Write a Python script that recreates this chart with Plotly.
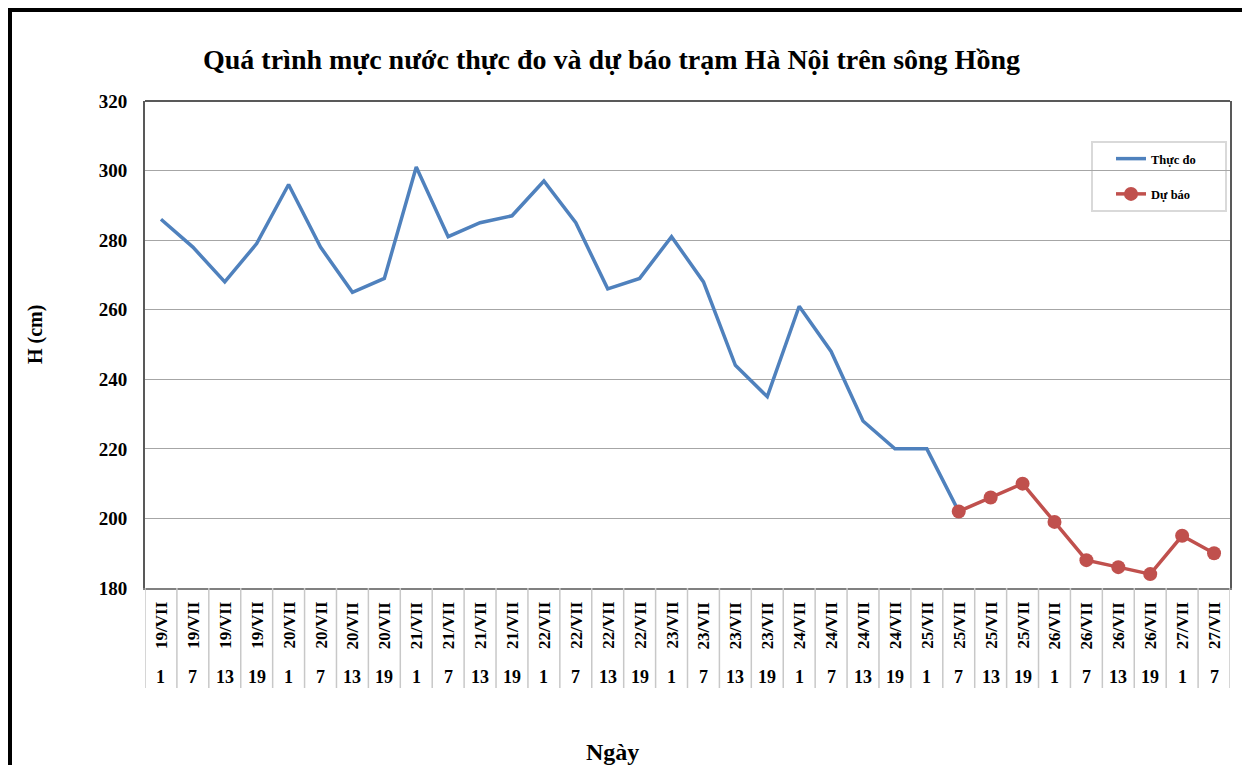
import plotly.graph_objects as go

date_labels = ["19/VII"] * 4 + ["20/VII"] * 4 + ["21/VII"] * 4 + ["22/VII"] * 4 + \
              ["23/VII"] * 4 + ["24/VII"] * 4 + ["25/VII"] * 4 + ["26/VII"] * 4 + ["27/VII"] * 2
hour_labels = ["1", "7", "13", "19"] * 8 + ["1", "7"]
categories = [f"{d} {h}" for d, h in zip(date_labels, hour_labels)]

observed = [286, 278, 268, 279, 296, 278, 265, 269, 301, 281, 285, 287, 297,
            285, 266, 269, 281, 268, 244, 235, 261, 248, 228, 220, 220, 202]
forecast = [202, 206, 210, 199, 188, 186, 184, 195, 190]

obs_x = categories[:len(observed)]
fc_x = categories[len(observed) - 1:]

FONT = "Liberation Serif"
BLUE = "#4F81BD"
RED = "#C0504D"

fig = go.Figure()
fig.add_trace(go.Scatter(x=obs_x, y=observed, mode="lines", name="Thực đo",
                         line=dict(color=BLUE, width=3.5), legendgroup="a"))
fig.add_trace(go.Scatter(x=fc_x, y=forecast, mode="lines+markers", name="Dự báo",
                         line=dict(color=RED, width=3.5),
                         marker=dict(color=RED, size=14), legendgroup="b"))

# page has an 8px body margin; work in screen pixel coordinates
OFF = 8
W, H = 1250 - OFF, 765 - OFF
L, T = 145 - OFF, 101 - OFF
R = W - (1230 - OFF)
B = H - (588 - OFF)
pw, ph = W - L - R, H - T - B


def px(x):
    return (x - OFF - L) / pw


def py(y):
    return (H - B - (y - OFF)) / ph


annotations = []
for c, d, h in zip(categories, date_labels, hour_labels):
    annotations.append(dict(x=c, y=py(625), xref="x", yref="paper", text=d,
                            textangle=-90, showarrow=False, yanchor="middle",
                            font=dict(family=FONT, size=17, color="black", weight="bold")))
    annotations.append(dict(x=c, y=py(677), xref="x", yref="paper", text=h,
                            showarrow=False, yanchor="middle",
                            font=dict(family=FONT, size=18, color="black", weight="bold")))

annotations.append(dict(x=px(611), y=py(60), xref="paper", yref="paper",
                        text="Quá trình mực nước thực đo và dự báo trạm Hà Nội trên sông Hồng",
                        showarrow=False, xanchor="center", yanchor="middle",
                        font=dict(family=FONT, size=28, color="black", weight="bold")))
annotations.append(dict(x=px(35), y=py(335), xref="paper", yref="paper", text="H (cm)",
                        textangle=-90, showarrow=False, xanchor="center", yanchor="middle",
                        font=dict(family=FONT, size=20, color="black", weight="bold")))
annotations.append(dict(x=px(612), y=py(752), xref="paper", yref="paper", text="Ngày",
                        showarrow=False, xanchor="center", yanchor="middle",
                        font=dict(family=FONT, size=24, color="black", weight="bold")))

shapes = []
for i in range(len(categories) + 1):
    shapes.append(dict(type="line", xref="x", yref="paper", x0=i - 0.5, x1=i - 0.5,
                       y0=0, y1=py(688), line=dict(color="#C8C8C8", width=1.5)))
# outer frame
shapes.append(dict(type="rect", xref="paper", yref="paper",
                   x0=px(10), x1=px(1245), y0=py(800), y1=py(10),
                   line=dict(color="black", width=4), layer="below"))
# legend box
shapes.append(dict(type="rect", xref="paper", yref="paper",
                   x0=px(1092), x1=px(1226), y0=py(211), y1=py(142),
                   line=dict(color="#D9D9D9", width=2), fillcolor="white", layer="below"))
# top border of plot
shapes.append(dict(type="line", xref="paper", yref="paper", x0=0, x1=1, y0=1, y1=1,
                   line=dict(color="#595959", width=2)))

fig.update_layout(
    width=W, height=H,
    margin=dict(l=L, r=R, t=T, b=B),
    paper_bgcolor="white", plot_bgcolor="white",
    showlegend=True,
    legend=dict(x=px(1111), y=py(144), xanchor="left", yanchor="top",
                borderwidth=0, bgcolor="rgba(0,0,0,0)",
                font=dict(family=FONT, size=12.5, color="black", weight="bold"),
                tracegroupgap=16, traceorder="grouped", itemwidth=30),
    annotations=annotations,
    shapes=shapes,
)
fig.update_xaxes(type="category", categoryorder="array", categoryarray=categories,
                 range=[-0.5, len(categories) - 0.5], showticklabels=False,
                 showgrid=False, showline=True, linecolor="#808080", linewidth=2,
                 mirror=False, ticks="", zeroline=False)
fig.update_yaxes(range=[180, 320], dtick=20, showgrid=True, gridcolor="#A6A6A6",
                 gridwidth=1, showline=True, linecolor="#595959", linewidth=2,
                 mirror=True, ticks="", zeroline=False, ticklabelstandoff=12,
                 tickfont=dict(family=FONT, size=19, color="black", weight="bold"))

fig.write_html("out.html")
